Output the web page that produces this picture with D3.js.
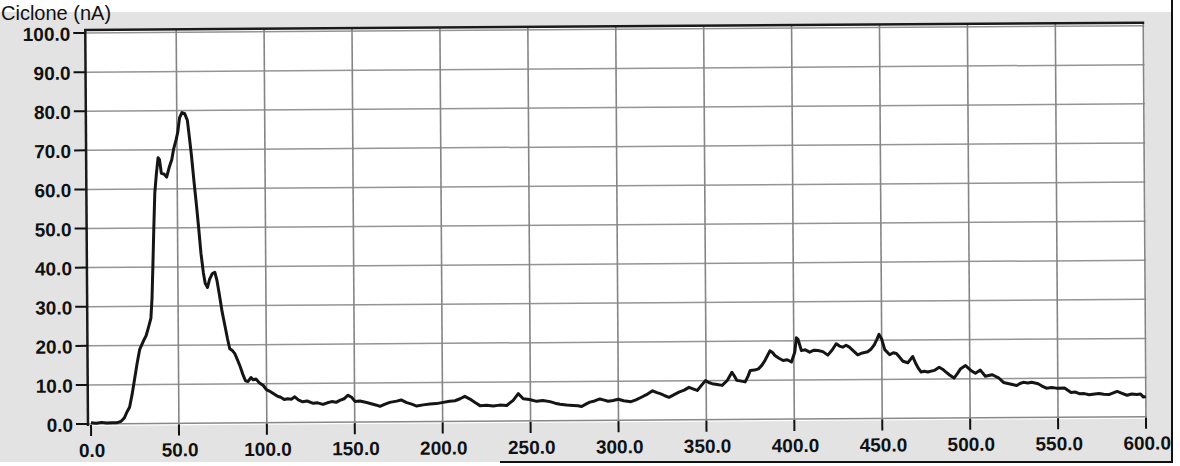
<!DOCTYPE html>
<html>
<head>
<meta charset="utf-8">
<script src="https://cdn.jsdelivr.net/npm/d3@7"></script>
<style>
  html, body { margin: 0; padding: 0; background: #fff; }
  svg { display: block; }
  .lbl { font-family: "Liberation Sans", Arial, sans-serif; font-weight: bold; font-size: 19px; fill: #111; }
</style>
</head>
<body>
<div id="chart"></div>
<script>
// x positions (time) and the current
var times = [0,3,6,9,12,15,17,19,20.5,22,23.5,25,26.5,28,30,31.7,33,34.5,35.2,35.8,36.5,37.2,38.2,39.2,40,41,42.5,44,45.5,47,48,49.5,50.5,51.6,53,54.5,56,57,58.2,59.5,60.7,62,63.2,64.5,65.5,66.8,68,69.5,71,72.2,73.4,75,76.5,78,79.2,80.5,82,83.5,85,86.5,88,89.5,91.2,92.5,94,96,98,100,102,104,106,108,110,112,114,116,118,120.5,123,126.5,129,132,134.5,137,139.5,141.6,144,146.3,148.5,150.2,153,156.8,160,162.5,164.4,167,170,173.9,176.5,179.6,182.5,185.3,189,192.8,196.5,200.4,204,207.1,210,212.7,215.6,218.5,221.3,225,228.8,232.5,236.5,240.2,243.1,245.9,249.5,253.5,257,261.1,264,266.8,270.5,274.4,277,279.1,281.5,283.8,286.5,289.5,292,294.2,297,300,303,307.2,310,312.8,316,319.5,322,324.2,326.5,328.8,331.5,334.5,337.5,340.2,342.5,344.9,347.3,349.6,351.5,353.4,356.3,359.1,362,364.7,366,367.5,370,372.2,373.8,375.1,377.5,379.8,381.7,383.5,385,386.4,388,389.2,391.5,393.9,396.2,398.6,400.5,401.5,402.4,404.3,406.5,409,411.5,413.7,416.5,419.3,421.8,424.1,426,427.8,429.7,431.6,434,436.3,439,442,444,445.7,447.2,448.5,450,451.7,454.5,456.5,458.3,460.2,462,464.8,466.2,467.6,469.5,471,472.3,474.2,476.1,479.8,482.6,484.5,486.3,488.5,491,493,494.8,497.6,499,500.4,503.2,506,508.8,512.6,514.5,516.3,519.1,522.9,526.6,528.5,530.3,533,535.1,538.8,541,543.5,546.5,549.1,553.8,557.5,560,562.2,565,567.8,571,573.4,576,579,583.7,586.5,589.3,592,594.9,597,598.7,600];
var currents = [0.3,0.2,0.4,0.2,0.3,0.3,0.6,1.5,3.0,4.2,7.5,11.5,15.5,19.0,21.0,22.5,24.5,27,32,40,50,59,64,68,67.5,64,63.8,63.0,65.5,67.5,70,72.5,74.5,78.2,79.5,79.2,77.5,73.5,68.5,62,56.5,50,43.5,38.5,35.8,34.7,36.8,38.2,38.6,36.5,33.2,28.5,25,21.5,19,18.6,17.8,16.2,14.5,12.5,10.8,10.6,11.6,11.0,11.2,10.2,9.6,8.4,8.0,7.4,6.8,6.5,5.9,6.1,6.0,6.6,5.8,5.3,5.5,4.9,5.0,4.6,5.0,5.3,5.1,5.6,6.0,6.9,6.3,5.3,5.4,5.0,4.6,4.3,4.0,4.5,5.0,5.3,5.6,4.9,4.5,4.0,4.3,4.5,4.6,4.9,5.2,5.3,5.8,6.4,5.7,4.8,4.0,4.1,3.9,4.1,4.0,5.3,7.0,5.7,5.5,5.0,5.2,4.9,4.5,4.2,4.0,3.9,3.8,3.6,4.2,4.7,5.0,5.5,5.2,4.9,5.1,5.4,5.0,4.75,5.2,5.8,6.5,7.5,7.0,6.7,6.2,5.8,6.4,7.1,7.6,8.3,7.9,7.5,8.8,10.0,9.5,9.2,9.0,8.75,10.0,12.1,11.2,10.0,9.8,9.6,11.0,12.5,12.6,12.9,13.8,15.0,16.3,17.5,17.0,16.3,15.6,15.0,15.2,14.6,17.1,20.8,20.4,17.5,17.7,17.1,17.6,17.5,17.2,16.3,17.6,19.2,18.6,18.3,18.8,18.3,17.3,16.3,16.8,17.1,17.8,18.8,20.2,21.5,20.3,17.6,16.3,16.8,16.6,15.6,14.6,14.2,15.0,15.8,13.8,12.6,11.8,12.0,11.8,12.2,13.0,12.5,11.8,11.0,10.2,11.4,12.6,13.4,12.8,12.2,11.4,12.2,10.6,11.0,10.6,10.2,9.0,8.6,8.2,8.7,9.0,8.8,9.0,8.6,8.0,7.45,7.6,7.45,7.45,6.3,6.4,6.0,6.0,5.7,5.9,6.0,5.8,5.7,6.5,6.0,5.5,5.8,5.7,5.8,5.0,5.2];

var xTicks = [0,50,100,150,200,250,300,350,400,450,500,550,600];
var yTicks = [0,10,20,30,40,50,60,70,80,90,100];
var title = "Ciclone (nA)";

var width = 1180, height = 466;

var svg = d3.select("#chart").append("svg")
  .attr("width", width)
  .attr("height", height);

// scanned page: grey panel with a dark frame on the right / bottom
svg.append("rect").attr("x", 0).attr("y", 12).attr("width", 1172).attr("height", 450).attr("fill", "#e3e3e3");
svg.append("line").attr("x1", 1172).attr("x2", 1172).attr("y1", 0).attr("y2", 463)
  .attr("stroke", "#111").attr("stroke-width", 2);
svg.append("line").attr("x1", 500).attr("x2", 1173).attr("y1", 462).attr("y2", 462)
  .attr("stroke", "#111").attr("stroke-width", 2);

svg.append("text")
  .attr("x", 1).attr("y", 20)
  .attr("font-family", "Liberation Sans, sans-serif")
  .attr("font-size", 20)
  .attr("fill", "#111")
  .text(title);

var x = d3.scaleLinear().domain([0, 600]).range([91, 1146]);
var y = d3.scaleLinear().domain([0, 100]).range([424, 33]);

// the scan is tilted a little
var g = svg.append("g").attr("transform", "rotate(-0.4, 91, 424)");

g.append("rect")
  .attr("x", 88).attr("y", 30)
  .attr("width", 1147 - 88).attr("height", 426 - 30)
  .attr("fill", "#fff");

g.selectAll(".hgrid").data(yTicks.slice(1)).enter().append("line")
  .attr("x1", 88).attr("x2", 1147)
  .attr("y1", function(d) { return y(d); })
  .attr("y2", function(d) { return y(d); })
  .attr("stroke", "#949494").attr("stroke-width", 1.5);

g.selectAll(".vgrid").data(xTicks.slice(1)).enter().append("line")
  .attr("x1", function(d) { return x(d); })
  .attr("x2", function(d) { return x(d); })
  .attr("y1", 30).attr("y2", 426)
  .attr("stroke", "#858585").attr("stroke-width", 1.6);

// bottom (zero) line
g.append("line").attr("x1", 88).attr("x2", 1147).attr("y1", y(0)).attr("y2", y(0))
  .attr("stroke", "#888").attr("stroke-width", 1.5);

// frame
g.append("line").attr("x1", 88).attr("x2", 88).attr("y1", 29).attr("y2", 426)
  .attr("stroke", "#1a1a1a").attr("stroke-width", 2.5);
g.append("line").attr("x1", 87).attr("x2", 1147).attr("y1", 30).attr("y2", 30)
  .attr("stroke", "#1a1a1a").attr("stroke-width", 2.5);

// ticks + labels
g.selectAll(".ytick").data(yTicks).enter().append("line")
  .attr("x1", 76).attr("x2", 88)
  .attr("y1", function(d) { return y(d); })
  .attr("y2", function(d) { return y(d); })
  .attr("stroke", "#111").attr("stroke-width", 2);

g.selectAll(".ylab").data(yTicks).enter().append("text")
  .attr("class", "lbl")
  .attr("x", 73)
  .attr("y", function(d) { return y(d) + 7.5; })
  .attr("text-anchor", "end")
  .text(function(d) { return d3.format(".1f")(d); });

g.selectAll(".xtick").data(xTicks).enter().append("line")
  .attr("x1", function(d) { return x(d); })
  .attr("x2", function(d) { return x(d); })
  .attr("y1", 425).attr("y2", 436)
  .attr("stroke", "#111").attr("stroke-width", 2);

g.selectAll(".xlab").data(xTicks).enter().append("text")
  .attr("class", "lbl")
  .attr("x", function(d) { return x(d) + 1; })
  .attr("y", 457)
  .attr("text-anchor", "middle")
  .text(function(d) { return d3.format(".1f")(d); });

// trace
var line = d3.line()
  .x(function(d, i) { return x(times[i]); })
  .y(function(d) { return y(d); });

g.append("path")
  .datum(currents)
  .attr("d", line)
  .attr("fill", "none")
  .attr("stroke", "#151515")
  .attr("stroke-width", 3)
  .attr("stroke-linejoin", "round");
</script>
</body>
</html>
